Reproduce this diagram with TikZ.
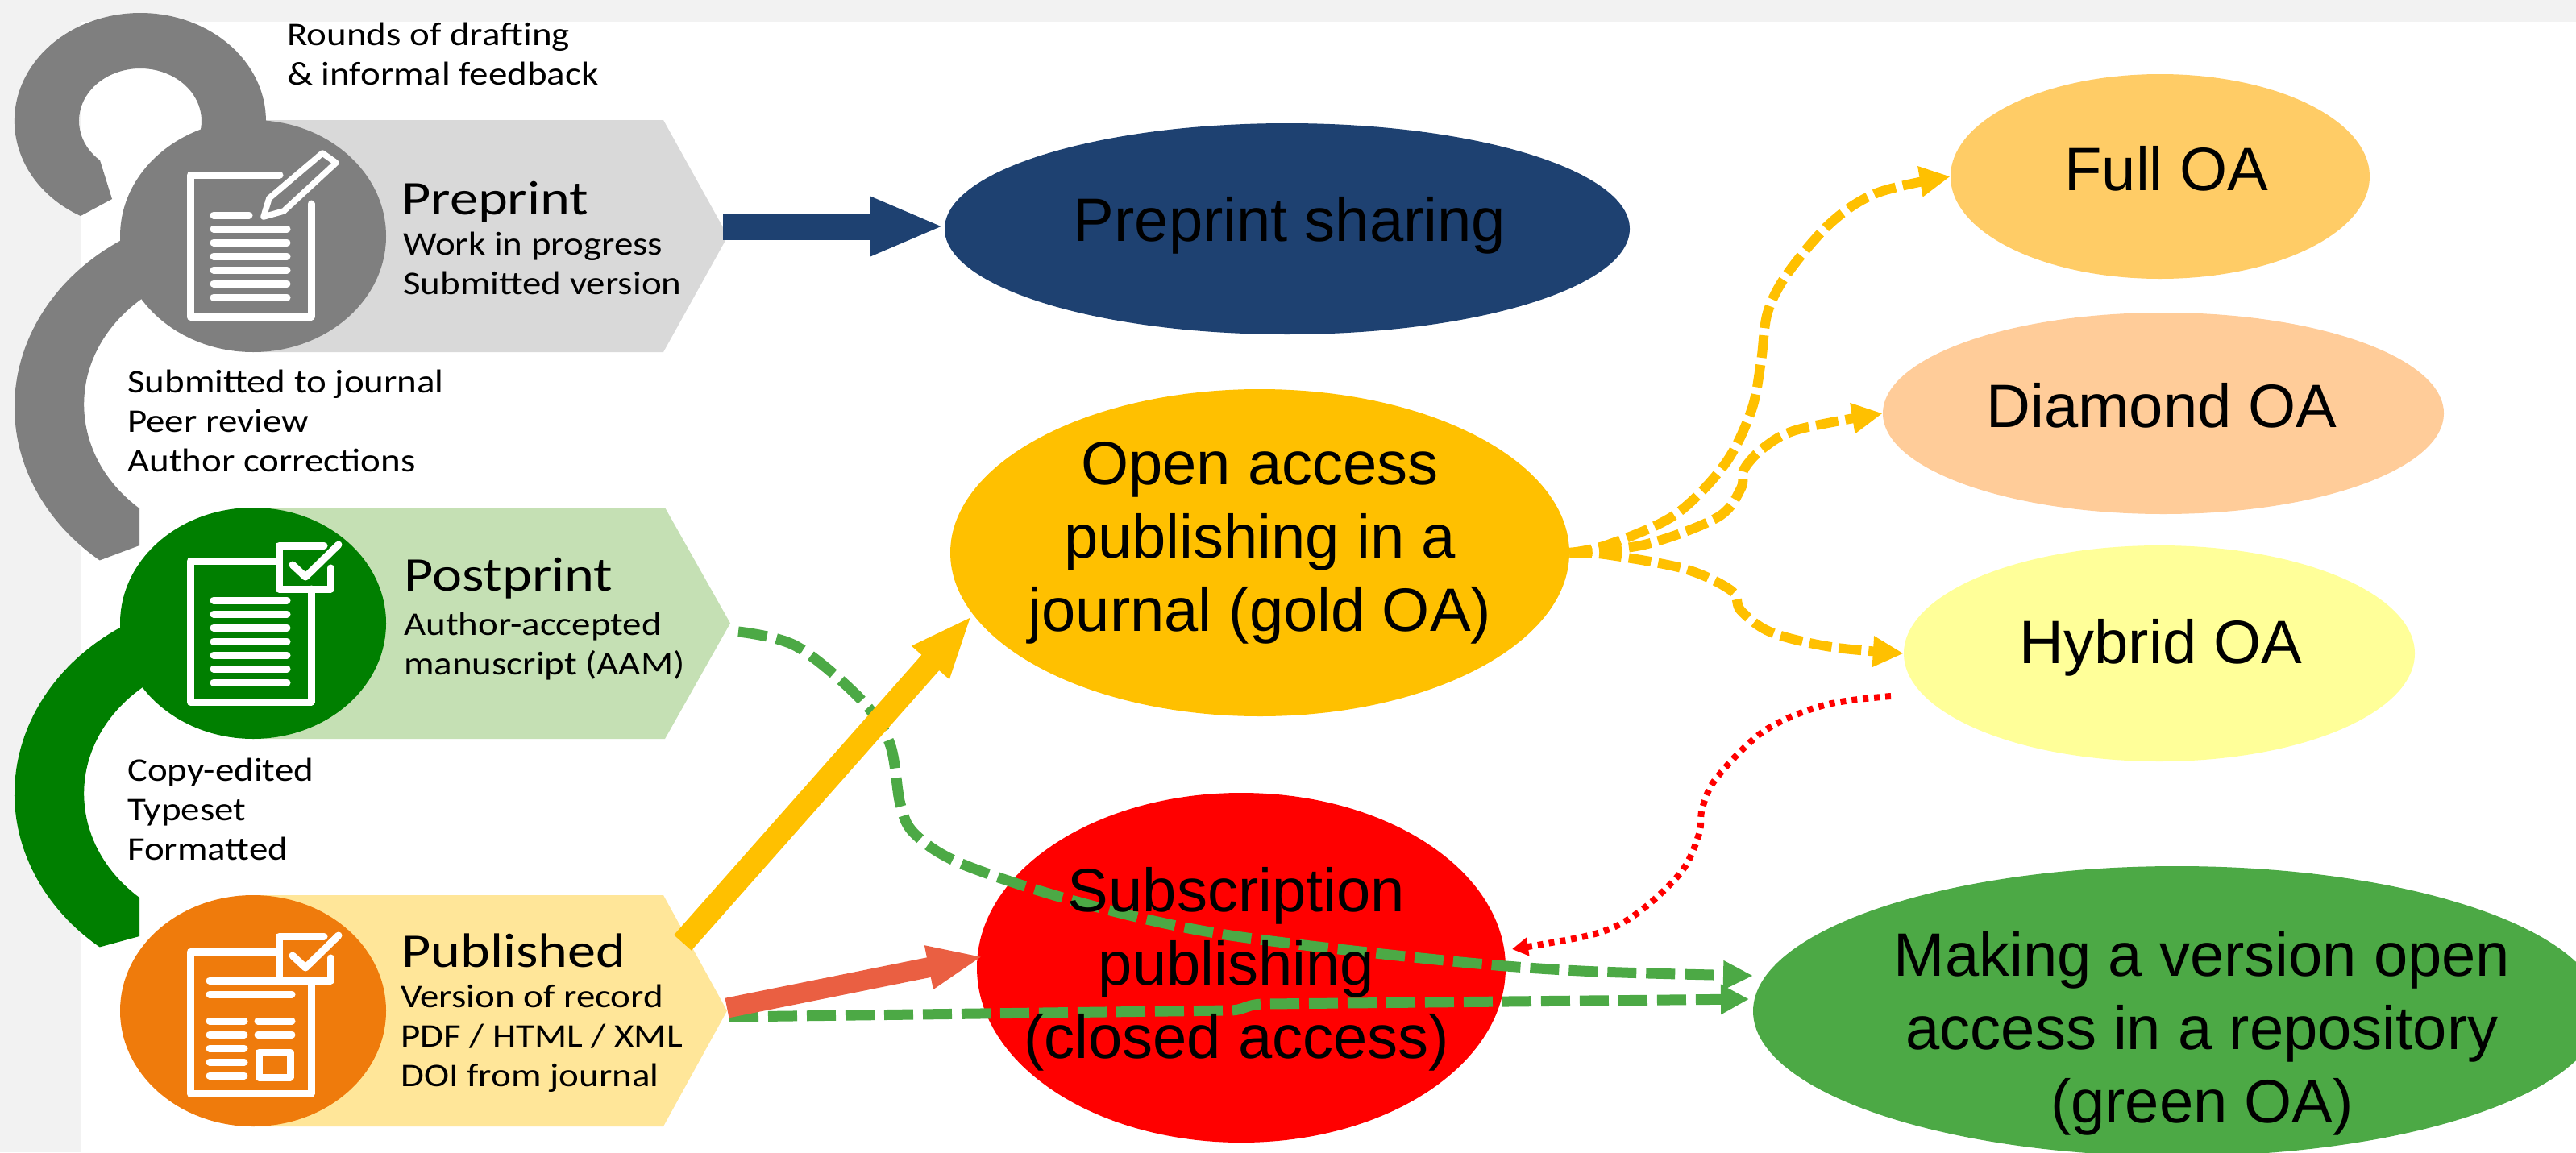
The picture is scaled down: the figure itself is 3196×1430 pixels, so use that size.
\documentclass[tikz,border=0pt]{standalone}
\usepackage{fontspec}
\setmainfont{Liberation Sans}
\newfontfamily\calib{Carlito}
\usetikzlibrary{arrows.meta,shapes.geometric}
\definecolor{pagegrey}{HTML}{F2F2F2}
\definecolor{tagA}{HTML}{D9D9D9}
\definecolor{tagB}{HTML}{C5E0B4}
\definecolor{tagC}{HTML}{FFE699}
\definecolor{circA}{HTML}{7F7F7F}
\definecolor{circB}{HTML}{007F00}
\definecolor{circC}{HTML}{EF7B0C}
\definecolor{navyc}{HTML}{1E4171}
\definecolor{goldc}{HTML}{FFC000}
\definecolor{fullc}{HTML}{FFCC66}
\definecolor{diamc}{HTML}{FFCC99}
\definecolor{hybc}{HTML}{FFFF99}
\definecolor{grnc}{HTML}{4CA945}
\definecolor{coralc}{HTML}{EA5F42}
\newcommand{\sx}[1]{\scalebox{1.145}[1]{#1}}
\newcommand{\tx}[1]{\scalebox{1.17}[1]{#1}}
\tikzset{
  x=1pt,y=1pt,
  oval/.style={ellipse,inner sep=0pt,fill=#1,draw=none},
  biglabel/.style={font=\fontsize{76}{91}\selectfont,align=center,anchor=north,inner sep=0pt,text=black},
  titletext/.style={font=\calib\fontsize{60}{62}\selectfont,anchor=base west,inner sep=0pt,text=black},
  subtext/.style={font=\calib\fontsize{41}{49}\selectfont,align=left,anchor=north west,inner sep=0pt,text=black},
  iconline/.style={draw=white,line width=9pt,line cap=round,line join=round},
  listline/.style={draw=white,line width=9pt,line cap=round},
  gdash/.style={draw=grnc,line width=13pt,dash pattern=on 36pt off 12pt},
  ydash/.style={draw=goldc,line width=12pt,dash pattern=on 28pt off 9pt,-{Triangle[length=38pt,width=36pt]}},
  sm/.style={smooth,tension=0.55}
}
\begin{document}
\begin{tikzpicture}
\useasboundingbox (0,0) rectangle (3196,-1430);
\fill[pagegrey] (0,0) rectangle (3196,-1430);
\fill[white] (101,-27) rectangle (3196,-1430);

% tags
\fill[tagA] (314,-149) -- (823,-149) -- (903,-293) -- (823,-437) -- (314,-437) -- cycle;
\fill[tagB] (314,-630) -- (825,-630) -- (906,-773.5) -- (825,-917) -- (314,-917) -- cycle;
\fill[tagC] (314,-1111) -- (823,-1111) -- (902,-1254.5) -- (823,-1398) -- (314,-1398) -- cycle;

% loop arcs
\fill[circA] (100,-268) arc[start angle=241.7,end angle=-30,x radius=156,y radius=134]
  -- (239.8,-182.5) arc[start angle=-30,end angle=228.9,x radius=76,y radius=65]
  -- (139,-247) -- cycle;
\fill[circA] (182.6,-283) arc[start angle=115,end angle=231,x radius=285,y radius=245]
  -- (173,-677) -- (173,-631)
  arc[start angle=229,end angle=110,x radius=200,y radius=171] -- cycle;
\fill[circB] (182.6,-763) arc[start angle=115,end angle=231,x radius=285,y radius=245]
  -- (173,-1162) -- (173,-1114)
  arc[start angle=229,end angle=110,x radius=200,y radius=171] -- cycle;

% circles
\node[oval=circA,minimum width=330pt,minimum height=288pt] (cpre) at (314,-293) {};
\node[oval=circB,minimum width=330pt,minimum height=287pt] (cpost) at (314,-773.5) {};
\node[oval=circC,minimum width=330pt,minimum height=287pt] (cpub) at (314,-1254.5) {};

% preprint icon
\draw[iconline] (347,-217) -- (236,-217) -- (236,-393) -- (386,-393) -- (386,-253);
\foreach \yy in {284,301,318,335,352,369} \draw[listline] (265,-\yy) -- (356,-\yy);
\draw[listline] (265,-267) -- (309,-267);
\draw[draw=white,line width=7.5pt,line join=round] (400,-190) -- (417,-202) -- (352,-262) -- (327,-269) -- (334,-246) -- cycle;

% postprint icon
\draw[iconline] (346,-696) -- (236,-696) -- (236,-871) -- (386,-871) -- (386,-731);
\draw[iconline] (402,-677) -- (346,-677) -- (346,-731) -- (410,-731) -- (410,-705);
\draw[iconline] (363,-701) -- (379,-716) -- (420,-676);
\foreach \yy in {745,762,779,796,813,830,847} \draw[listline] (265,-\yy) -- (356,-\yy);

% published icon
\draw[iconline] (346,-1181) -- (236,-1181) -- (236,-1357) -- (386,-1357) -- (386,-1217);
\draw[iconline] (402,-1162) -- (346,-1162) -- (346,-1217);
\draw[iconline] (260,-1217) -- (410,-1217) -- (410,-1189);
\draw[iconline] (363,-1186) -- (379,-1201) -- (420,-1161);
\draw[listline] (260,-1234) -- (362,-1234);
\foreach \yy in {1267,1284,1301,1318,1335} \draw[listline] (260,-\yy) -- (303,-\yy);
\foreach \yy in {1267,1284} \draw[listline] (320,-\yy) -- (362,-\yy);
\draw[draw=white,line width=9pt,line join=round] (321,-1306) rectangle (360,-1337);

% left texts
\node[titletext] (tpre) at (498,-266) {\tx{Preprint}};
\node[titletext] (tpost) at (501,-733) {\tx{Postprint}};
\node[titletext] (tpub) at (498,-1200) {\tx{Published}};
\node[subtext] (spre) at (500,-288) {\sx{Work in progress}\\\sx{Submitted version}};
\node[subtext] (spost) at (501,-760) {\sx{Author-accepted}\\\sx{manuscript (AAM)}};
\node[subtext] (spub) at (497,-1222) {\sx{Version of record}\\\sx{PDF / HTML / XML}\\\sx{DOI from journal}};
\node[subtext] (rounds) at (356,-28) {\sx{Rounds of drafting}\\\sx{\& informal feedback}};
\node[subtext] (subm) at (158,-459) {\sx{Submitted to journal}\\\sx{Peer review}\\\sx{Author corrections}};
\node[subtext] (copy) at (158,-941) {\sx{Copy-edited}\\\sx{Typeset}\\\sx{Formatted}};

% ellipses
\node[oval=navyc,minimum width=850pt,minimum height=262pt] (sharing) at (1597,-284) {};
\node[oval=goldc,minimum width=768pt,minimum height=406pt] (gold) at (1563,-686) {};
\node[oval=red,minimum width=656pt,minimum height=434pt] (subs) at (1540,-1201) {};
\node[oval=grnc,minimum width=1052pt,minimum height=360pt] (repo) at (2701,-1255) {};
\node[oval=fullc,minimum width=520pt,minimum height=254pt] (full) at (2680,-219) {};
\node[oval=diamc,minimum width=696pt,minimum height=250pt] (diam) at (2684,-513) {};
\node[oval=hybc,minimum width=634pt,minimum height=268pt] (hyb) at (2679,-811) {};

% named free ends
\coordinate (navystart) at (897,-281);
\coordinate (goldstart) at (847,-1170);
\coordinate (goldtip) at (1206,-764);
\coordinate (coralstart) at (902,-1251);
\coordinate (coraltip) at (1220,-1187);
\coordinate (gstartA) at (916,-784);
\coordinate (gtipA) at (2175,-1211);
\coordinate (gstartB) at (905,-1262);
\coordinate (gtipB) at (2170,-1240);
\coordinate (redstart) at (2346,-864);
\coordinate (redtip) at (1876,-1178);

% connectors
\draw[navyc,line width=33pt,-{Triangle[length=92pt,width=67pt]}] (navystart) -- (navystart -| sharing.west);
\draw[ydash] plot[sm] coordinates {(gold.east) (1995,-676) (2078,-639) (2140,-576) (2173,-509) (2185,-448) (2193,-388) (2218,-339) (2272,-276) (2330,-239) (full.west)};
\draw[ydash] plot[sm] coordinates {(gold.east) (2040,-676) (2131,-642) (2160,-606) (2164,-582) (2189,-555) (2231,-533) (diam.west)};
\draw[ydash] plot[sm] coordinates {(gold.east) (1991,-688) (2090,-706) (2148,-733) (2160,-758) (2198,-785) (2272,-803) (hyb.west)};
\draw[red,line width=8pt,dash pattern=on 7pt off 7pt,-{Triangle[length=20pt,width=22pt]}] plot[sm] coordinates {(redstart) (2264,-875) (2189,-907) (2130,-965) (2112,-1003) (2108,-1035) (2086,-1082) (2032,-1133) (1979,-1159) (redtip)};
\draw[gdash,-{Triangle[length=37pt,width=34pt]}] plot[sm] coordinates {(gstartA) (988,-802) (1068,-868) (1104,-923) (1117,-998) (1135,-1035) (1193,-1072) (1336,-1119) (1514,-1159) (1782,-1191) (1961,-1205) (gtipA)};
\draw[gdash,-{Triangle[length=35pt,width=35pt]}] (gstartB) -- (1525,-1254) .. controls (1545,-1254) and (1545,-1246) .. (1570,-1246) -- (gtipB);
\draw[goldc,line width=29pt,-{Triangle[length=78pt,width=56pt]}] (goldstart) -- (goldtip);
\draw[coralc,line width=25pt,-{Triangle[length=69pt,width=50pt]}] (coralstart) -- (coraltip);

% ellipse labels
\node[biglabel] (lsharing) at (1600,-244) {Preprint sharing};
\node[biglabel] (lgold) at (1563,-548) {Open access\\publishing in a\\journal (gold OA)};
\node[biglabel] (lsubs) at (1534,-1076) {Subscription\\publishing\\(closed access)};
\node[biglabel] (lrepo) at (2732,-1156) {Making a version open\\access in a repository\\(green OA)};
\node[biglabel] (lfull) at (2688,-181) {Full OA};
\node[biglabel] (ldiam) at (2682,-475) {Diamond OA};
\node[biglabel] (lhyb) at (2681,-768) {Hybrid OA};
\end{tikzpicture}
\end{document}
